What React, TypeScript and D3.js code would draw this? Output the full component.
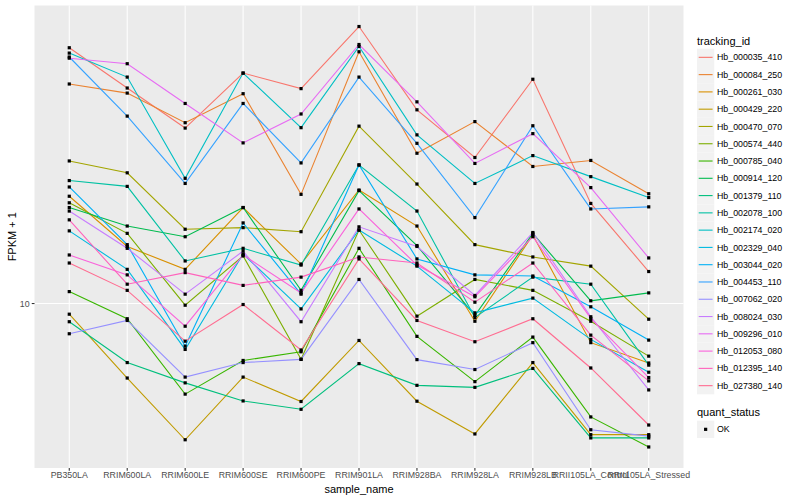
import * as d3 from "d3";

// samples on the x axis
const sampleNames = [
  "PB350LA", "RRIM600LA", "RRIM600LE", "RRIM600SE", "RRIM600PE", "RRIM901LA",
  "RRIM928BA", "RRIM928LA", "RRIM928LB", "RRII105LA_Control", "RRII105LA_Stressed",
];

// FPKM + 1 per tracking id, in sample order
const hb000035_410 = [63.4, 47.4, 35.5, 52.8, 47.2, 73.9, 40.5, 28.7, 50.5, 20.6, 12.6];
const hb000084_250 = [48.8, 45.7, 36.9, 45.5, 22.0, 61.6, 29.6, 37.2, 26.9, 28.1, 22.1];
const hb000261_030 = [21.7, 15.1, 12.8, 20.0, 13.3, 22.7, 17.5, 8.8, 16.4, 7.54, 6.51];
const hb000429_220 = [9.26, 5.84, 3.74, 5.88, 4.93, 7.66, 4.94, 3.9, 6.53, 3.88, 3.88];
const hb000470_070 = [28.0, 25.7, 17.1, 17.3, 16.8, 36.0, 23.7, 15.3, 14.0, 13.1, 8.93];
const hb000574_440 = [20.7, 16.6, 9.88, 14.1, 6.69, 17.0, 9.13, 11.9, 11.0, 8.8, 6.84];
const hb000785_040 = [10.9, 8.96, 5.2, 6.63, 7.06, 14.9, 7.89, 5.69, 7.85, 4.41, 3.55];
const hb000914_120 = [20.0, 17.5, 16.2, 20.0, 11.0, 22.6, 15.2, 9.17, 16.6, 10.2, 10.8];
const hb001379_110 = [8.77, 6.53, 5.64, 4.95, 4.66, 6.48, 5.54, 5.46, 6.26, 3.79, 3.79];
const hb002078_100 = [24.3, 23.3, 13.6, 14.9, 13.2, 27.2, 19.5, 9.04, 12.1, 11.5, 6.41];
const hb002174_020 = [61.0, 51.3, 24.7, 52.8, 35.6, 64.0, 33.8, 23.8, 29.1, 25.0, 21.5];
const hb002329_040 = [16.9, 12.8, 7.18, 14.3, 9.62, 17.0, 13.1, 9.35, 10.4, 7.72, 6.09];
const hb003044_020 = [23.2, 15.3, 7.35, 17.9, 10.7, 27.2, 13.8, 12.3, 12.2, 9.77, 7.68];
const hb004453_110 = [59.3, 38.7, 23.8, 42.4, 27.6, 51.3, 31.8, 18.6, 36.1, 19.8, 20.1];
const hb007062_020 = [8.04, 8.85, 5.88, 6.53, 6.68, 11.9, 6.67, 6.21, 7.54, 4.02, 3.84];
const hb008024_030 = [19.5, 14.9, 10.7, 14.6, 8.77, 17.4, 15.1, 10.6, 16.7, 9.09, 5.36];
const hb009296_010 = [58.8, 56.5, 42.4, 31.9, 39.3, 64.9, 42.9, 27.5, 34.1, 23.1, 13.9];
const hb012053_080 = [14.2, 12.3, 8.49, 14.2, 10.8, 19.8, 13.2, 10.5, 16.2, 8.98, 5.86];
const hb012395_140 = [18.3, 11.5, 12.5, 11.4, 12.1, 14.0, 13.4, 10.1, 13.4, 7.96, 5.72];
const hb027380_140 = [13.4, 11.0, 7.62, 9.93, 7.15, 13.8, 8.85, 7.59, 8.96, 6.28, 4.16];

const trackingIds = [
  "Hb_000035_410", "Hb_000084_250", "Hb_000261_030", "Hb_000429_220", "Hb_000470_070",
  "Hb_000574_440", "Hb_000785_040", "Hb_000914_120", "Hb_001379_110", "Hb_002078_100",
  "Hb_002174_020", "Hb_002329_040", "Hb_003044_020", "Hb_004453_110", "Hb_007062_020",
  "Hb_008024_030", "Hb_009296_010", "Hb_012053_080", "Hb_012395_140", "Hb_027380_140",
];

const fpkm = [
  hb000035_410, hb000084_250, hb000261_030, hb000429_220, hb000470_070,
  hb000574_440, hb000785_040, hb000914_120, hb001379_110, hb002078_100,
  hb002174_020, hb002329_040, hb003044_020, hb004453_110, hb007062_020,
  hb008024_030, hb009296_010, hb012053_080, hb012395_140, hb027380_140,
];

const yTicks = [10];
const quantStatus = ["OK"];

// ggplot default hue palette, 20 levels
const hue = [
  "#F8766D", "#EA8331", "#D89000", "#C09B00", "#A3A500", "#7CAE00", "#39B600",
  "#00BB4E", "#00BF7D", "#00C1A3", "#00BFC4", "#00BAE0", "#00B0F6", "#35A2FF",
  "#9590FF", "#C77CFF", "#E76BF3", "#FA62DB", "#FF62BC", "#FF6C91",
];

const font = "'Liberation Sans', Arial, Helvetica, sans-serif";

export default function App() {
  const width = 800, height = 500;
  const panel = { left: 34.5, right: 683.5, top: 5.5, bottom: 468 };

  const x = d3.scalePoint<string>().domain(sampleNames).range([panel.left, panel.right]).padding(0.6);

  const [lo, hi] = d3.extent(fpkm.flat()).map((v) => Math.log10(v as number));
  const pad = (hi - lo) * 0.05;
  const y = d3.scaleLog().domain([10 ** (lo - pad), 10 ** (hi + pad)]).range([panel.bottom, panel.top]);

  const line = d3
    .line<number>()
    .x((_, i) => x(sampleNames[i])!)
    .y((d) => y(d));

  const keySize = 17.28;
  const legendX = 697;
  const firstKey = 48.7;
  const statusTop = 420.7;

  return (
    <svg width={width} height={height} style={{ position: "absolute", left: 0, top: 0, background: "#fff" }} fontFamily={font}>
      <rect x={panel.left} y={panel.top} width={panel.right - panel.left} height={panel.bottom - panel.top} fill="#EBEBEB" />
      {yTicks.map((t) => (
        <line key={t} x1={panel.left} x2={panel.right} y1={y(t)} y2={y(t)} stroke="#fff" strokeWidth={1.07} />
      ))}
      {sampleNames.map((s) => (
        <line key={s} x1={x(s)} x2={x(s)} y1={panel.top} y2={panel.bottom} stroke="#fff" strokeWidth={1.07} />
      ))}

      {fpkm.map((vals, i) => (
        <path key={trackingIds[i]} d={line(vals) ?? ""} fill="none" stroke={hue[i]} strokeWidth={1.1} />
      ))}
      {fpkm.map((vals, i) =>
        vals.map((v, j) => (
          <rect key={`${i}-${j}`} x={x(sampleNames[j])! - 1.6} y={y(v) - 1.6} width={3.2} height={3.2} fill="#000" />
        ))
      )}

      {/* y axis */}
      {yTicks.map((t) => (
        <g key={t}>
          <line x1={panel.left - 2.75} x2={panel.left} y1={y(t)} y2={y(t)} stroke="#333" strokeWidth={1.07} />
          <text x={panel.left - 4.95} y={y(t)} dy="0.35em" textAnchor="end" fontSize={8.8} fill="#4D4D4D">
            {t}
          </text>
        </g>
      ))}
      <text
        transform={`translate(${12},${(panel.top + panel.bottom) / 2}) rotate(-90)`}
        textAnchor="middle"
        dy="0.35em"
        fontSize={11}
        fill="#000"
      >
        FPKM + 1
      </text>

      {/* x axis */}
      {sampleNames.map((s) => (
        <g key={s}>
          <line x1={x(s)} x2={x(s)} y1={panel.bottom} y2={panel.bottom + 2.75} stroke="#333" strokeWidth={1.07} />
          <text x={x(s)} y={panel.bottom + 4.4} dy="0.62em" textAnchor="middle" fontSize={8.8} fill="#4D4D4D">
            {s}
          </text>
        </g>
      ))}
      <text x={(panel.left + panel.right) / 2} y={489} dy="0.35em" textAnchor="middle" fontSize={11} fill="#000">
        sample_name
      </text>

      {/* legend: tracking_id */}
      <text x={legendX} y={40.7} dy="0.35em" fontSize={11} fill="#000">
        tracking_id
      </text>
      {trackingIds.map((id, i) => {
        const top = firstKey + i * keySize;
        return (
          <g key={id}>
            <rect x={legendX} y={top} width={keySize} height={keySize} fill="#F2F2F2" />
            <line x1={legendX + 1.7} x2={legendX + keySize - 1.7} y1={top + keySize / 2} y2={top + keySize / 2} stroke={hue[i]} strokeWidth={1.1} />
            <text x={legendX + keySize + 2.75} y={top + keySize / 2} dy="0.35em" fontSize={8.8} fill="#000">
              {id}
            </text>
          </g>
        );
      })}

      {/* legend: quant_status */}
      <text x={legendX} y={statusTop - 8.4} dy="0.35em" fontSize={11} fill="#000">
        quant_status
      </text>
      {quantStatus.map((q, i) => {
        const top = statusTop + i * keySize;
        return (
          <g key={q}>
            <rect x={legendX} y={top} width={keySize} height={keySize} fill="#F2F2F2" />
            <rect x={legendX + keySize / 2 - 1.6} y={top + keySize / 2 - 1.6} width={3.2} height={3.2} fill="#000" />
            <text x={legendX + keySize + 2.75} y={top + keySize / 2} dy="0.35em" fontSize={8.8} fill="#000">
              {q}
            </text>
          </g>
        );
      })}
    </svg>
  );
}
